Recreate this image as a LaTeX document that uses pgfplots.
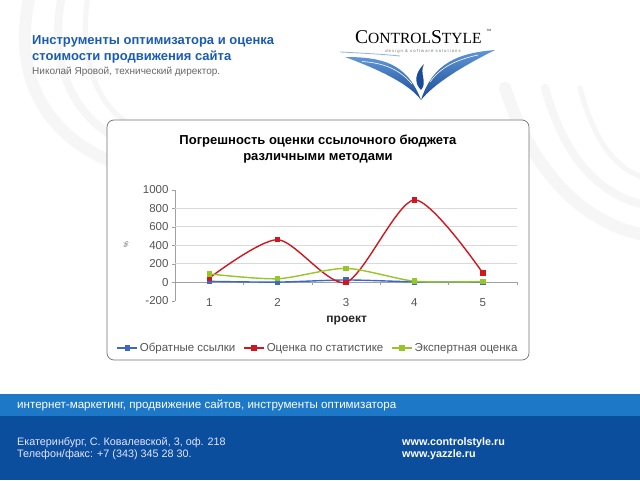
\documentclass[border=0pt]{standalone}
\usepackage{pgfplots}
\pgfplotsset{compat=1.18}
\usepackage{fontspec}
\setmainfont{Liberation Sans}
\newfontfamily\logofont{Liberation Serif}
\definecolor{sBlue}{RGB}{60,105,200}
\definecolor{sRed}{RGB}{208,22,30}
\definecolor{sGreen}{RGB}{150,198,40}
\definecolor{titleBlue}{RGB}{26,92,180}
\definecolor{bandLight}{RGB}{30,120,200}
\definecolor{bandDark}{RGB}{12,78,158}
\definecolor{wingDark}{RGB}{25,75,150}
\definecolor{wingLight}{RGB}{95,150,215}
\definecolor{gridGray}{RGB}{217,217,217}
\definecolor{axGray}{RGB}{160,160,160}
\definecolor{txtGray}{RGB}{85,85,85}
\definecolor{wm}{RGB}{246,246,246}
\begin{document}
\begin{tikzpicture}[x=1pt,y=1pt]
\path[use as bounding box] (0,0) rectangle (640,480);
\fill[white] (0,0) rectangle (640,480);
% faint watermark arcs
\begin{scope}[draw=wm, line cap=round]
\draw[line width=12pt] (30,485) .. controls (10,400) and (50,340) .. (120,315);
\draw[line width=8pt] (62,485) .. controls (47,410) and (77,360) .. (125,337);
\draw[line width=5pt] (88,485) .. controls (78,420) and (98,375) .. (128,357);
\draw[line width=12pt] (505,392) .. controls (535,300) and (590,255) .. (645,245);
\draw[line width=8pt] (545,392) .. controls (565,320) and (600,285) .. (645,275);
\draw[line width=5pt] (580,392) .. controls (595,335) and (618,310) .. (645,302);
\end{scope}
% slide title
\node[anchor=west, inner sep=0, text=titleBlue, font=\fontsize{13}{15}\selectfont\bfseries] at (32,438.3) {Инструменты оптимизатора и оценка};
\node[anchor=west, inner sep=0, text=titleBlue, font=\fontsize{13}{15}\selectfont\bfseries] at (32,423.3) {стоимости продвижения сайта};
\node[anchor=west, inner sep=0, text=black!60, font=\fontsize{10}{12}\selectfont] at (32,408.3) {Николай Яровой, технический директор.};
% logo
\shade[top color=wingLight, bottom color=wingDark] (345,423) .. controls (382,423) and (407,417) .. (421,380) .. controls (410,395) and (383,409) .. (345,423) -- cycle;
\shade[top color=wingLight, bottom color=wingDark] (495,430) .. controls (458,427) and (433,417) .. (421,380) .. controls (434,396) and (461,413) .. (495,430) -- cycle;
\fill[wingDark] (421,390) .. controls (413,398) and (416,408) .. (424,416) .. controls (419,406) and (428,398) .. (421,390) -- cycle;
\draw[white, line width=0.6pt] (362,418.5) .. controls (385,417) and (400,410) .. (412,396);
\draw[white, line width=0.6pt] (478,425) .. controls (455,420) and (440,412) .. (430,398);
\draw[wingLight!70, line width=0.8pt] (340,428) .. controls (360,427) and (380,426) .. (400,424);
\node[anchor=base west, inner sep=0] at (355,436.7) {\logofont\fontsize{19.5}{19}\selectfont C\fontsize{15.5}{15}\selectfont ONTROL\fontsize{19.5}{19}\selectfont S\fontsize{15.5}{15}\selectfont TYLE};
\node[inner sep=0, font=\fontsize{3}{3}\selectfont] at (489,450) {TM};
\node[inner sep=0, text=black!55, font=\fontsize{4.2}{5}\selectfont\addfontfeature{LetterSpace=25}] at (423,429) {design \& software solutions};
% chart frame
\draw[black!55, fill=white, rounded corners=7pt, line width=0.7pt] (107,360) rectangle (529,120);
\begin{axis}[
  at={(175pt,179.2pt)}, anchor=south west,
  scale only axis, width=342pt, height=111.1pt,
  xmin=0.5, xmax=5.5, ymin=-200, ymax=1000,
  axis lines*=left,
  x axis line style={draw=none},
  y axis line style={draw=axGray},
  xtick={1,2,3,4,5}, xtick style={draw=none},
  ytick={-200,0,200,400,600,800,1000},
  ytick style={draw=axGray}, tick align=outside, major tick length=3pt,
  /pgf/number format/assume math mode=true,
  /pgf/number format/1000 sep={},
  tick label style={font=\fontsize{11.5}{13}\selectfont, text=txtGray},
  xticklabel style={anchor=center, yshift=1pt},
  title={Погрешность оценки ссылочного бюджета\\различными методами},
  title style={at={(axis description cs:0.418,1.31)}, anchor=center, align=center, font=\fontsize{13}{16.6}\selectfont\bfseries},
  xlabel={проект},
  xlabel style={at={(axis description cs:0.502,-0.173)}, anchor=center, font=\fontsize{12}{14}\selectfont\bfseries, text=black!85},
  ylabel={\%},
  ylabel style={at={(axis description cs:-0.143,0.502)}, anchor=center, font=\fontsize{6.5}{7}\selectfont, text=txtGray},
  legend columns=3,
  legend style={draw=none, fill=none, at={(axis description cs:0.418,-0.425)}, anchor=center,
    font=\fontsize{11.5}{13}\selectfont, text=txtGray,
    /tikz/every even column/.append style={column sep=6pt}},
  legend image code/.code={\draw[mark repeat=2,mark phase=2] plot coordinates {(0pt,0pt) (10pt,0pt) (20pt,0pt)};},
  every axis plot/.append style={line width=1.4pt, smooth, tension=0.45, mark=square*, mark size=2pt, mark options={solid}},
  clip=false,
]
\pgfplotsinvokeforeach{200,400,600,800}{\draw[gridGray, line width=0.6pt] (axis cs:0.5,#1) -- (axis cs:5.5,#1);}
\draw[axGray, line width=0.7pt] (axis cs:0.5,0) -- (axis cs:5.5,0);
\pgfplotsinvokeforeach{1.5,2.5,3.5,4.5,5.5}{\draw[axGray, line width=0.6pt] (axis cs:#1,0) -- ++(0pt,-3pt);}
\addplot[color=sBlue] coordinates {(1,10) (2,2) (3,25) (4,5) (5,3)};
\addlegendentry{Обратные ссылки}
\addplot[color=sRed] coordinates {(1,45) (2,460) (3,0) (4,890) (5,100)};
\addlegendentry{Оценка по статистике}
\addplot[color=sGreen] coordinates {(1,90) (2,38) (3,150) (4,12) (5,8)};
\addlegendentry{Экспертная оценка}
\end{axis}
% footer
\fill[bandLight] (0,86) rectangle (640,64);
\fill[bandDark] (0,64) rectangle (640,0);
\node[anchor=west, inner sep=0, text=white, font=\fontsize{11.6}{13}\selectfont] at (17,74.3) {интернет-маркетинг, продвижение сайтов, инструменты оптимизатора};
\node[anchor=west, inner sep=0, text=white!90!blue, font=\fontsize{10.8}{12}\selectfont] at (17,37.3) {Екатеринбург, С. Ковалевской, 3, оф. 218};
\node[anchor=west, inner sep=0, text=white!90!blue, font=\fontsize{10.8}{12}\selectfont] at (17,25) {Телефон/факс: +7 (343) 345 28 30.};
\node[anchor=west, inner sep=0, text=white, font=\fontsize{10.8}{12}\selectfont\bfseries] at (402,37.3) {www.controlstyle.ru};
\node[anchor=west, inner sep=0, text=white, font=\fontsize{10.8}{12}\selectfont\bfseries] at (402,25) {www.yazzle.ru};
\end{tikzpicture}
\end{document}
